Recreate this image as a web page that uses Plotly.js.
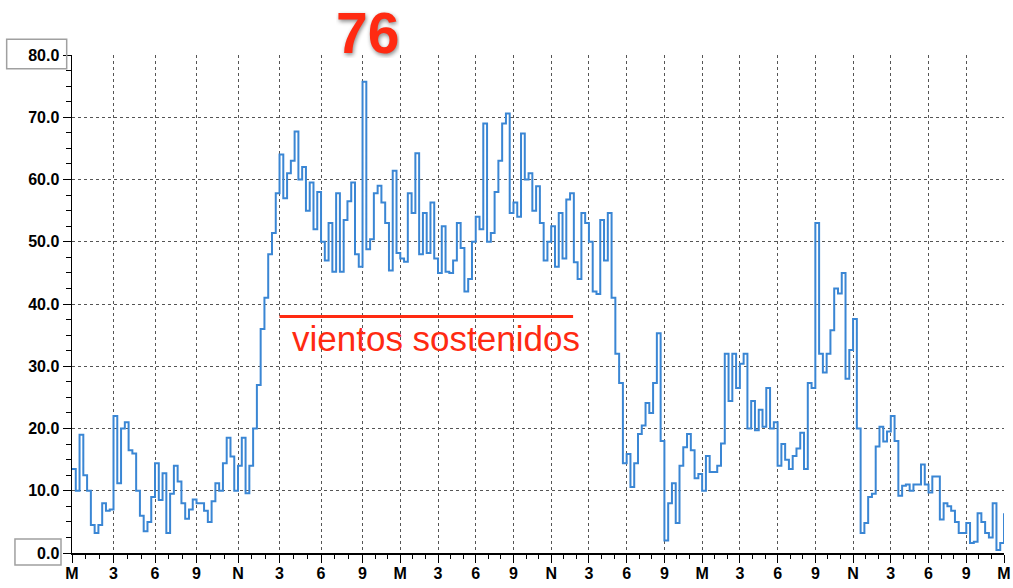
<!DOCTYPE html>
<html>
<head>
<meta charset="utf-8">
<script src="https://cdn.plot.ly/plotly-3.0.1.min.js"></script>
<style>html,body{margin:0;padding:0;background:#fff;}#chart{width:1013px;height:588px;}</style>
</head>
<body>
<div id="chart"></div>
<script>
// 3-hour tick marks (M = medianoche, N = mediodía) and the sample index where each falls
const tickLabels = ['M','3','6','9','N','3','6','9','M','3','6','9','N','3','6','9','M','3','6','9','N','3','6','9','M'];
const tickIndex = [0,11,22,33,44,55,66,77,87,97,107,117,127,137,147,157,167,177,187,197,207,217,227,237,247];

// wind speed readings (one per sample)
const speed = [
  13.5,10,19,12.5,10,4.5,3.2,4.5,8,6.8,
  7,22,11.2,20,21,16.5,16,10,6,3.5,
  5,9,14.4,8.5,12.8,3.2,9.5,14,11.5,8,
  5.5,7,8.6,8,8,6.8,5,8.3,11.2,10,
  14.4,18.5,15.5,10,14,18.5,9.6,14,20,27,
  36,41,48,51.4,57.8,64,57,61,63,67.7,
  60,62,55,59.5,52,58,50,47,53,45.2,
  57.8,45.2,53.5,56.5,59.5,48,46,75.7,48.8,50.4,
  57.8,59,56.3,53,45.4,61.4,48.2,47.3,46.8,57.8,
  54.6,64.2,48,54.6,48.2,56.3,47.3,45,52.5,45.2,
  45,47,53,49,42,44,50,54,52,69,
  50,51.4,58,63,69,70.6,54.6,56.3,54,67.4,
  60,61,55,58.9,53,47,50,52.5,46,54.6,
  47.3,56.8,57.8,46.7,44,54.6,53,50,42,41.6,
  53.5,47,54.6,41,32,27.3,14.4,15.9,10.6,14.4,
  19.1,20.5,24.1,22.5,27.3,35.3,18,2,8,11.2,
  4.8,14,17,19.1,16.5,12,12.7,10,15.6,13,
  13,14,17.6,32,24.4,32,26.5,30.4,32,20,
  24.4,19.7,23,20.3,26.5,20,21,14,17.5,15,
  13.5,15.6,16.8,19.3,13.5,27.3,26.5,53,32,29,
  32,35.8,42.5,41.7,45,28,32.6,37.6,20,3.2,
  4.8,9,9.5,17.1,20.3,17.9,19.5,22,18,9.2,
  10.8,11,10,11,11,14.2,11,9.7,12.3,12.3,
  5.4,8,7.5,6.8,5,3.2,3.2,4.8,1.6,1.8,
  6.4,5,3.2,2.5,8,0.5,1.6,6.4
];

const peakLabel = '76';
const noteLabel = 'vientos sostenidos';

const xs = speed.map((_, i) => i);

// hourly minor ticks: split each 3-hour interval in three
const minorVals = [];
for (let k = 0; k < tickIndex.length - 1; k++) {
  const a = tickIndex[k], b = tickIndex[k + 1];
  minorVals.push(a + (b - a) / 3, a + 2 * (b - a) / 3);
}

const red = '#ff2a12';
const tickFont = {family: 'Liberation Sans, Arial, sans-serif', size: 16, color: '#000', weight: 'bold'};

const trace = {
  x: xs, y: speed, type: 'scatter', mode: 'lines',
  line: {color: '#3a86d4', width: 2, shape: 'hv'},
  hoverinfo: 'skip'
};

const layout = {
  width: 1013, height: 588,
  margin: {l: 72, r: 9, t: 55, b: 35},
  paper_bgcolor: '#fff', plot_bgcolor: '#fff',
  showlegend: false,
  xaxis: {
    range: [0, tickIndex[tickIndex.length - 1]],
    tickmode: 'array', tickvals: tickIndex, ticktext: tickLabels,
    ticks: 'outside', ticklen: 8, tickwidth: 1, tickcolor: '#000',
    ticklabelstandoff: -3,
    showline: true, linecolor: '#000', linewidth: 1.5,
    showgrid: true, gridcolor: '#555', gridwidth: 1, griddash: '3px,3px',
    zeroline: false, tickfont: tickFont,
    minor: {tickmode: 'array', tickvals: minorVals, ticks: 'outside', ticklen: 4, tickcolor: '#000', showgrid: false},
    fixedrange: true
  },
  yaxis: {
    range: [0, 80], tickmode: 'linear', tick0: 0, dtick: 10, tickformat: '.1f',
    ticks: 'outside', ticklen: 8, tickwidth: 1, tickcolor: '#000',
    showline: true, linecolor: '#000', linewidth: 1.5,
    showgrid: true, gridcolor: '#555', gridwidth: 1, griddash: '3px,3px',
    zeroline: false, tickfont: tickFont,
    minor: {dtick: 2.5, ticks: 'outside', ticklen: 5, tickcolor: '#000', showgrid: false},
    fixedrange: true
  },
  shapes: [
    // boxed range labels on the y axis
    {type: 'rect', xref: 'paper', yref: 'paper', x0: -0.0701, x1: -0.0057, y0: 0.9725, y1: 1.0315,
     line: {color: '#a0a0a0', width: 1.5}, fillcolor: 'rgba(0,0,0,0)'},
    {type: 'rect', xref: 'paper', yref: 'paper', x0: -0.0612, x1: -0.0118, y0: -0.0241, y1: 0.0281,
     line: {color: '#a0a0a0', width: 1.5}, fillcolor: 'rgba(0,0,0,0)'},
    // sustained-winds marker line
    {type: 'line', xref: 'x', yref: 'y', x0: tickIndex[5], x1: 132.8, y0: 38, y1: 38,
     line: {color: red, width: 3}}
  ],
  annotations: [
    {text: peakLabel, xref: 'paper', yref: 'paper', x: 0.317, xanchor: 'center',
     y: 1.0442, yanchor: 'middle', height: 50, valign: 'middle',
     showarrow: false,
     font: {family: 'Liberation Sans, Arial, sans-serif', size: 57, color: red, weight: 'bold',
            shadow: '1px 2px 4px #888'}},
    {text: noteLabel, xref: 'x', yref: 'y', x: 96.5, y: 34.5, xanchor: 'center', showarrow: false,
     font: {family: 'Liberation Sans, Arial, sans-serif', size: 35, color: red}}
  ]
};

Plotly.newPlot('chart', [trace], layout, {staticPlot: true, displayModeBar: false});
</script>
</body>
</html>
